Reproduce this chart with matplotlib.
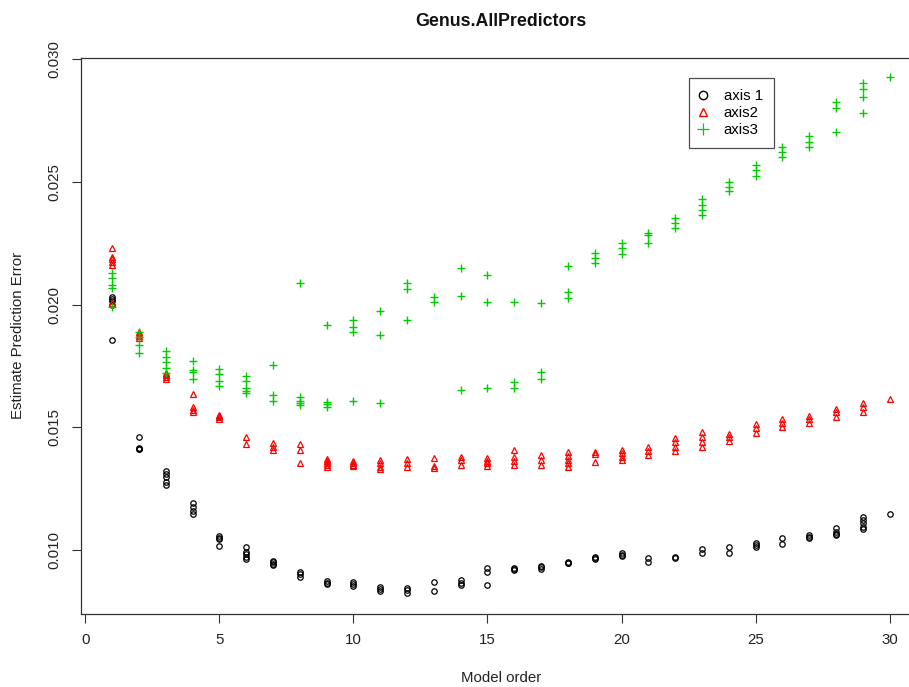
import matplotlib
matplotlib.use("Agg")
import matplotlib.pyplot as plt
from matplotlib.lines import Line2D

plt.rcParams['font.family'] = ['Liberation Sans', 'DejaVu Sans']

model_order = [1, 2, 3, 4, 5, 6, 7, 8, 9, 10, 11, 12, 13, 14, 15,
               16, 17, 18, 19, 20, 21, 22, 23, 24, 25, 26, 27, 28, 29, 30]

axis1_vals = [
    [0.02032, 0.02022, 0.02014, 0.01998, 0.01855],
    [0.01458, 0.01416, 0.01412, 0.01409],
    [0.01322, 0.01309, 0.01295, 0.01277, 0.01264],
    [0.01189, 0.01173, 0.01159, 0.01144],
    [0.01056, 0.01046, 0.01042, 0.01016],
    [0.01012, 0.00992, 0.00982, 0.00971, 0.00962],
    [0.00954, 0.00948, 0.00942, 0.00938],
    [0.00908, 0.00900, 0.00890],
    [0.00874, 0.00865, 0.00859],
    [0.00868, 0.00860, 0.00852],
    [0.00847, 0.00840, 0.00832],
    [0.00843, 0.00835, 0.00825],
    [0.00867, 0.00832],
    [0.00876, 0.00866, 0.00855],
    [0.00927, 0.00910, 0.00857],
    [0.00924, 0.00920, 0.00917],
    [0.00935, 0.00928, 0.00921],
    [0.00950, 0.00947, 0.00944],
    [0.00971, 0.00966, 0.00961],
    [0.00985, 0.00980, 0.00975],
    [0.00965, 0.00948],
    [0.00971, 0.00968],
    [0.01002, 0.00988],
    [0.01012, 0.00988],
    [0.01026, 0.01019, 0.01012],
    [0.01047, 0.01022],
    [0.01060, 0.01053, 0.01047],
    [0.01087, 0.01074, 0.01065, 0.01060],
    [0.01135, 0.01121, 0.01108, 0.01094, 0.01083],
    [0.01144],
]

axis2_vals = [
    [0.02232, 0.02195, 0.02184, 0.02173, 0.02160, 0.02005],
    [0.01890, 0.01880, 0.01870, 0.01863],
    [0.01722, 0.01718, 0.01712, 0.01705, 0.01695],
    [0.01634, 0.01583, 0.01570, 0.01563],
    [0.01549, 0.01545, 0.01540, 0.01533],
    [0.01461, 0.01431],
    [0.01434, 0.01420, 0.01407],
    [0.01431, 0.01407, 0.01352],
    [0.01369, 0.01360, 0.01352, 0.01345, 0.01338],
    [0.01362, 0.01355, 0.01347, 0.01340],
    [0.01366, 0.01352, 0.01338, 0.01329],
    [0.01369, 0.01352, 0.01336],
    [0.01373, 0.01341, 0.01332],
    [0.01379, 0.01366, 0.01345],
    [0.01373, 0.01362, 0.01352, 0.01341],
    [0.01407, 0.01377, 0.01363, 0.01345],
    [0.01386, 0.01366, 0.01345],
    [0.01400, 0.01383, 0.01366, 0.01352, 0.01338],
    [0.01400, 0.01390, 0.01359],
    [0.01407, 0.01393, 0.01379, 0.01366],
    [0.01420, 0.01404, 0.01386],
    [0.01454, 0.01440, 0.01420, 0.01404],
    [0.01479, 0.01458, 0.01438, 0.01420],
    [0.01471, 0.01458, 0.01444],
    [0.01513, 0.01495, 0.01477],
    [0.01532, 0.01518, 0.01502],
    [0.01545, 0.01532, 0.01518],
    [0.01573, 0.01560, 0.01542],
    [0.01597, 0.01583, 0.01563],
    [0.01615],
]

axis3_vals = [
    [0.02127, 0.02107, 0.02080, 0.02066, 0.01989],
    [0.01889, 0.01869, 0.01835, 0.01803],
    [0.01812, 0.01787, 0.01764, 0.01742, 0.01719],
    [0.01771, 0.01733, 0.01723, 0.01696],
    [0.01736, 0.01717, 0.01689, 0.01668],
    [0.01710, 0.01689, 0.01658, 0.01647, 0.01638],
    [0.01753, 0.01631, 0.01608],
    [0.02089, 0.01624, 0.01608, 0.01597, 0.01589],
    [0.01918, 0.01604, 0.01594, 0.01581],
    [0.01938, 0.01909, 0.01889, 0.01606],
    [0.01972, 0.01874, 0.01597],
    [0.02086, 0.02063, 0.01936],
    [0.02032, 0.02011],
    [0.02150, 0.02036, 0.01651],
    [0.02120, 0.02011, 0.01658],
    [0.02009, 0.01685, 0.01661],
    [0.02007, 0.01726, 0.01695],
    [0.02157, 0.02052, 0.02025],
    [0.02211, 0.02188, 0.02168],
    [0.02252, 0.02229, 0.02206],
    [0.02293, 0.02283, 0.02252],
    [0.02352, 0.02334, 0.02311],
    [0.02429, 0.02406, 0.02385, 0.02365],
    [0.02498, 0.02480, 0.02463],
    [0.02569, 0.02549, 0.02524],
    [0.02641, 0.02623, 0.02603],
    [0.02687, 0.02664, 0.02641],
    [0.02827, 0.02800, 0.02705],
    [0.02905, 0.02878, 0.02847, 0.02782],
    [0.02927],
]

series_labels = ["axis 1", "axis2", "axis3"]
x_ticks = [0, 5, 10, 15, 20, 25, 30]
y_ticks = [0.010, 0.015, 0.020, 0.025, 0.030]
y_tick_labels = ["0.010", "0.015", "0.020", "0.025", "0.030"]


def flatten(vals):
    xs, ys = [], []
    for m, group in zip(model_order, vals):
        for v in group:
            xs.append(m)
            ys.append(v)
    return xs, ys


W, H = 909, 687
fig = plt.figure(figsize=(W / 100, H / 100), dpi=100)
left, right, top, bottom = 81, 920.8, 57.7, 613.7
ax = fig.add_axes([left / W, 1 - bottom / H, (right - left) / W, (bottom - top) / H])

green = '#00CD00'
styles = [
    dict(marker='o', color='black', ms=3.9),
    dict(marker='^', color='red', ms=4.6),
    dict(marker='+', color=green, ms=6.2),
]
handles = []
for vals, st, lab in zip([axis1_vals, axis2_vals, axis3_vals], styles, series_labels):
    xs, ys = flatten(vals)
    if st['marker'] == '+':
        ax.plot(xs, ys, linestyle='none', marker='+', color=st['color'],
                ms=st['ms'], mew=1.0)
        h = Line2D([], [], linestyle='none', marker='+', color=st['color'], ms=8.5, mew=0.9)
    else:
        ax.plot(xs, ys, linestyle='none', marker=st['marker'], mfc='none',
                mec=st['color'], ms=st['ms'], mew=0.9)
        h = Line2D([], [], linestyle='none', marker=st['marker'], mfc='none',
                   mec=st['color'], ms=6.0, mew=1.0)
    handles.append(h)

ax.set_xlim(-0.16, 31.16)
ax.set_ylim(0.00739, 0.03007)
ax.set_xticks(x_ticks)
ax.set_xticklabels([str(t) for t in x_ticks])
ax.set_yticks(y_ticks)
ax.set_yticklabels(y_tick_labels, rotation=90, va='center')
ax.tick_params(axis='both', direction='out', length=6.5, width=0.8,
               color='#333333', labelsize=10.8, labelcolor='#222222')
ax.tick_params(axis='x', pad=7.5)
ax.tick_params(axis='y', pad=7.5)
for s in ax.spines.values():
    s.set_linewidth(0.9)
    s.set_color('#333333')

fig.text(501 / W, 1 - 22 / H, "Genus.AllPredictors", ha='center', va='center',
         fontsize=12.8, fontweight='bold', color='#111111')
fig.text(501 / W, 1 - 678 / H, "Model order", ha='center', va='center',
         fontsize=10.8, color='#222222')
fig.text(18 / W, 1 - 335.7 / H, "Estimate Prediction Error", ha='center', va='center',
         rotation=90, fontsize=10.8, color='#222222')

leg = ax.legend(handles, series_labels, loc='upper left',
                bbox_to_anchor=(689 / W, 1 - 77.7 / H), bbox_transform=fig.transFigure,
                fontsize=10.8, frameon=True, fancybox=False, borderpad=0.75,
                handlelength=0.3, handletextpad=1.25, labelspacing=0.2,
                borderaxespad=0, numpoints=1)
leg.get_frame().set_edgecolor('#222222')
leg.get_frame().set_linewidth(0.9)

fig.savefig("out.png", dpi=100)
